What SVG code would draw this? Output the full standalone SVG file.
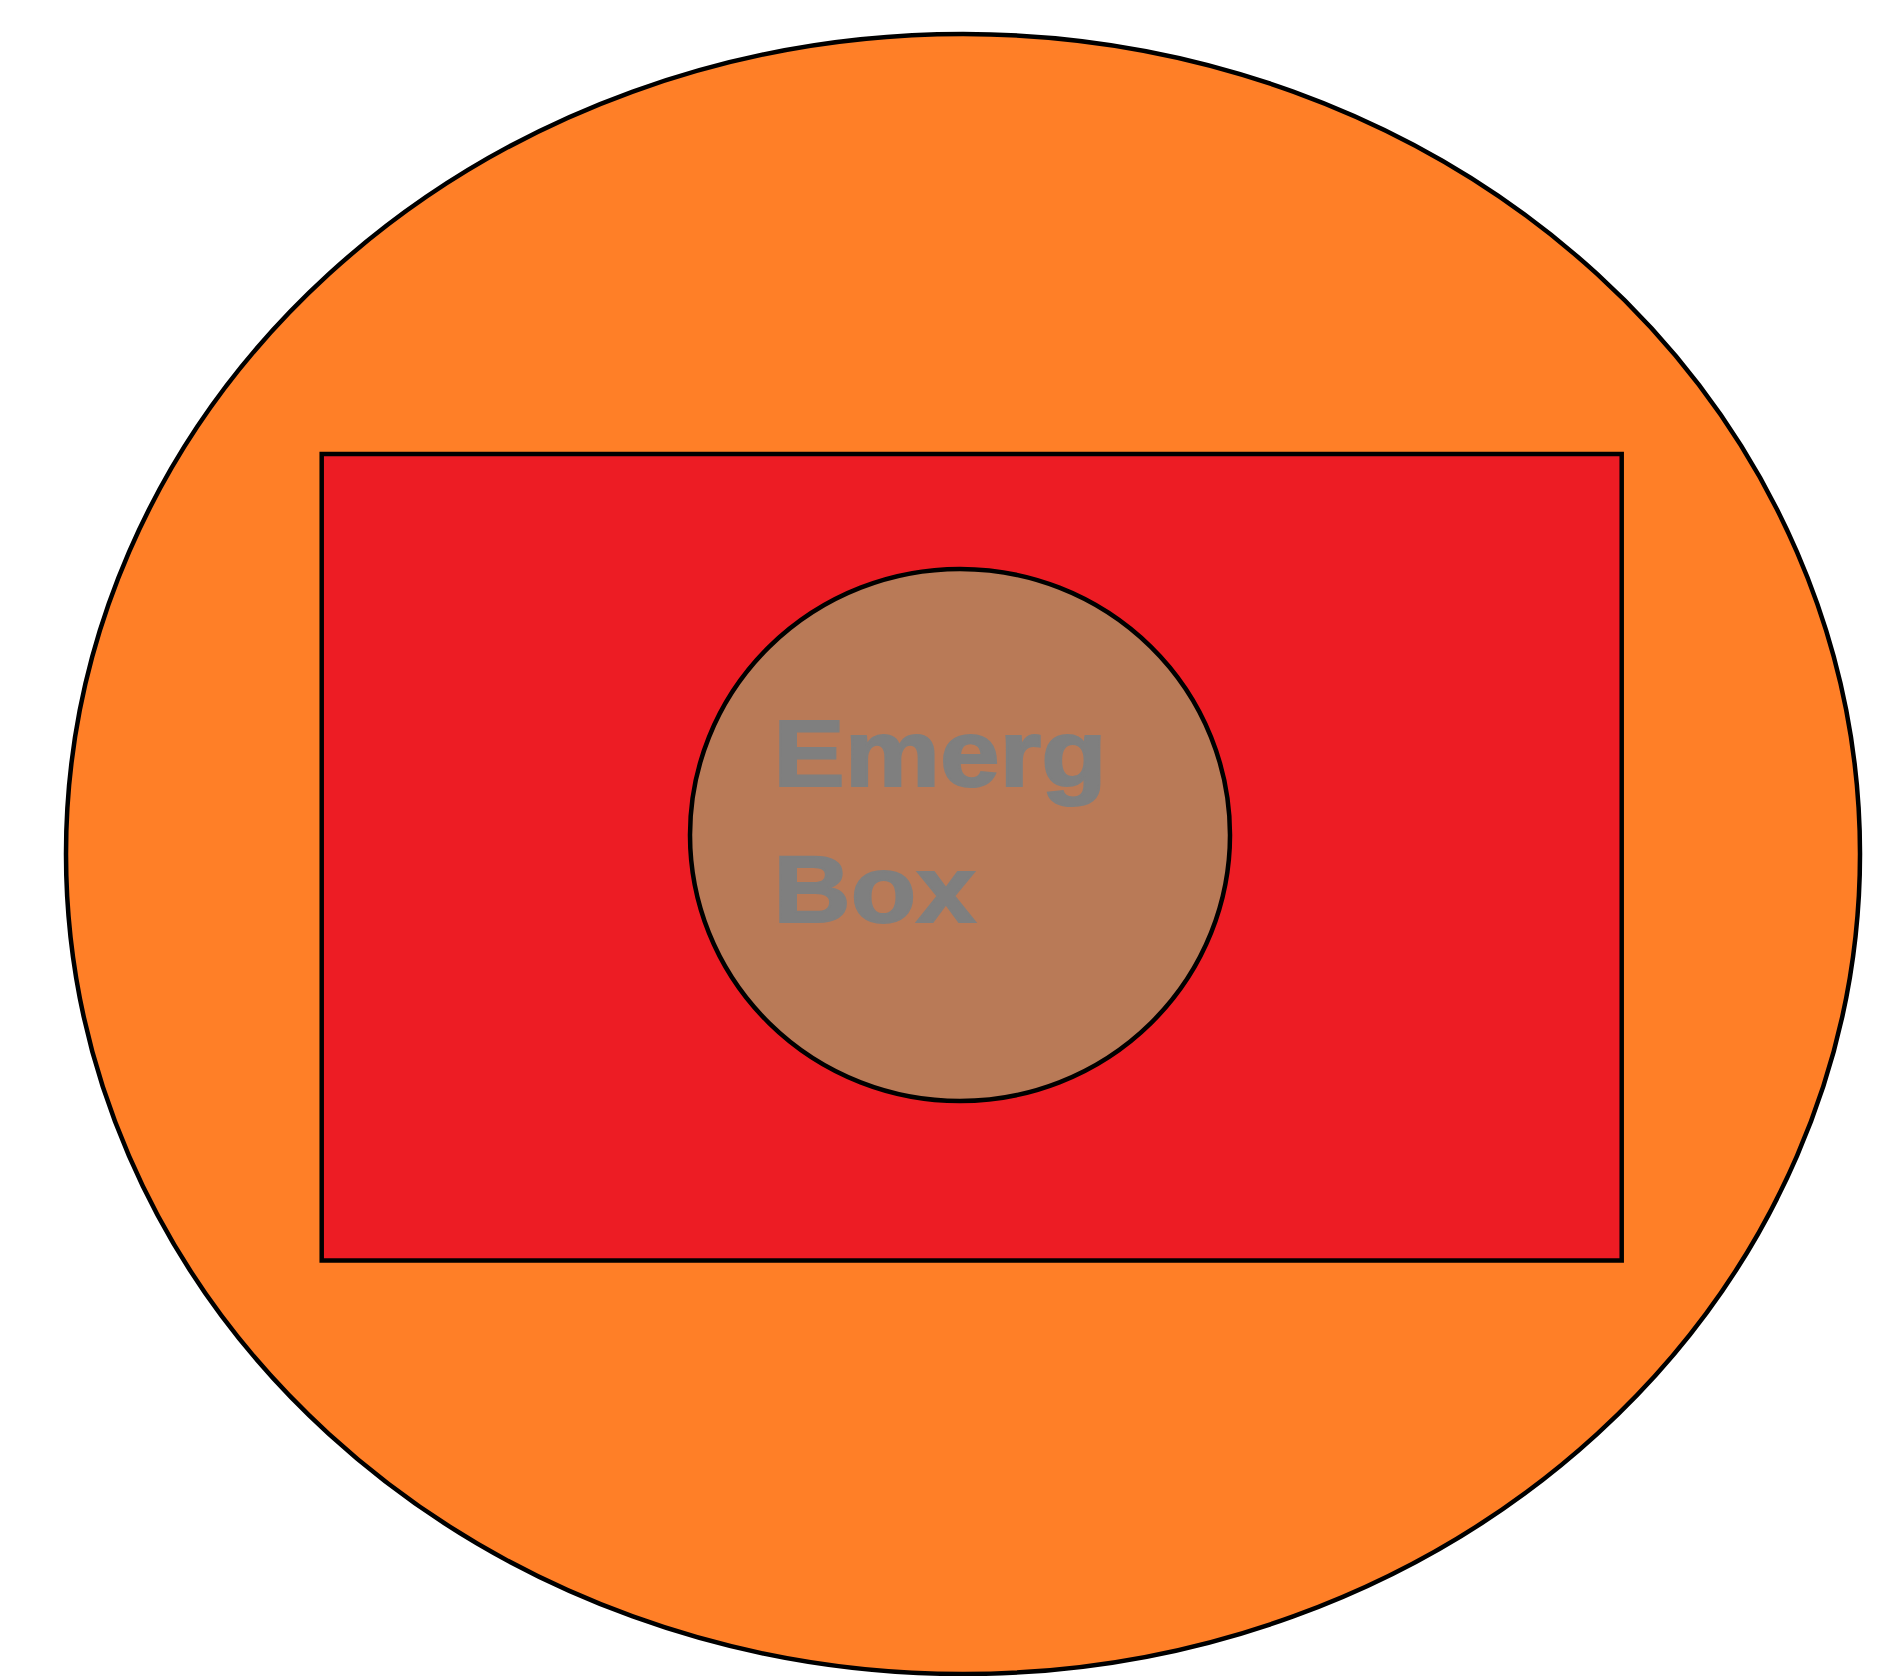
<svg xmlns="http://www.w3.org/2000/svg" width="1904" height="1676" viewBox="0 0 1904 1676">
<style>
.shape{stroke:#000;stroke-width:4.5}
.label{font-family:"Liberation Sans",Arial,sans-serif;font-weight:bold;font-size:94px;fill:#7F7F7F;stroke:#7F7F7F;stroke-width:2;stroke-linejoin:miter}
</style>
<rect width="1904" height="1676" fill="#fff"/>
<g id="outer">
<ellipse class="shape" cx="963" cy="854" rx="897" ry="820" fill="#FF7F27"/>
</g>
<g id="box">
<rect class="shape" x="321.7" y="454" width="1300" height="806.5" fill="#ED1C24"/>
</g>
<g id="emerg-box">
<ellipse class="shape" cx="960" cy="835" rx="270" ry="266" fill="#B97A57"/>
<text class="label" transform="translate(773.3,786.3) scale(1.14,1)">Emerg</text>
<text class="label" transform="translate(773.3,921.6) scale(1.14,1)">Box</text>
</g>
<g id="connectors"></g>
</svg>
